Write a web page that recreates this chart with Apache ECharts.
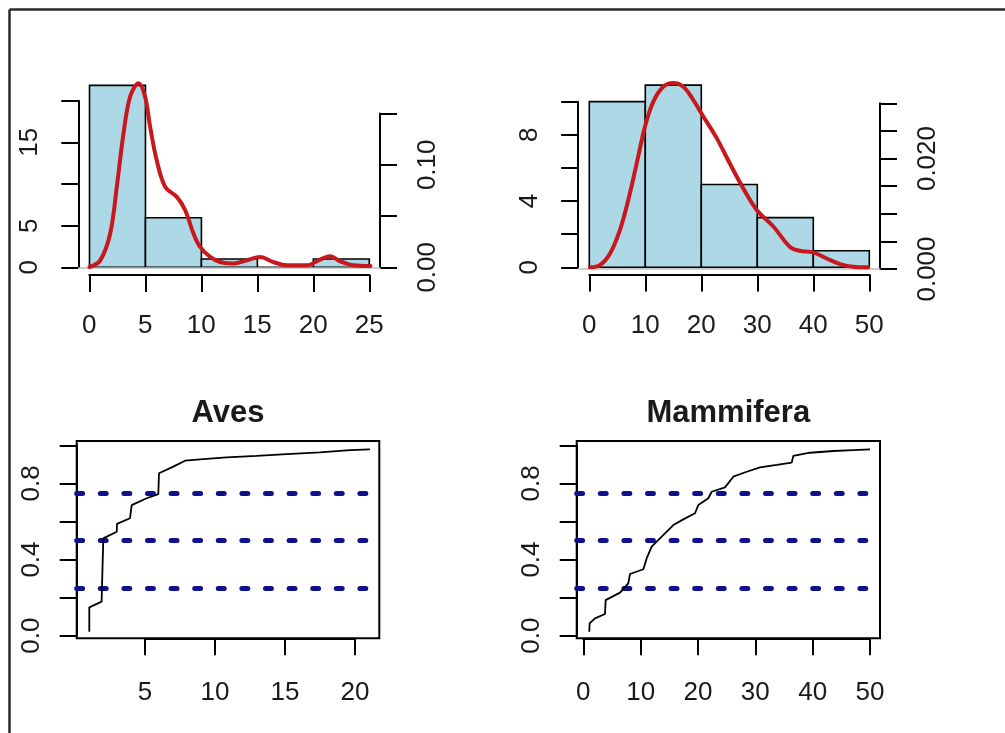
<!DOCTYPE html>
<html><head><meta charset="utf-8">
<script src="https://cdn.jsdelivr.net/npm/echarts@6/dist/echarts.min.js"></script>
<style>html,body{margin:0;padding:0;background:#fff;}#c{width:1005px;height:733px;}</style>
</head><body><div id="c"></div>
<script>
// ================= DATA =================
// Top-left: histogram of Aves values (counts) + kernel density
const avesBinEdges = [0, 5, 10, 15, 20, 25];
const avesCounts = [22, 6, 1, 0, 1];
const avesDensX = [0.0, 0.96, 1.85, 2.44, 3.04, 3.63, 4.38, 4.97, 5.42, 6.0, 6.76, 7.8, 8.55, 9.29, 9.88, 10.78, 11.67, 12.86, 14.05, 15.24, 16.43, 17.63, 19.4, 20.6, 21.5, 22.4, 23.6, 25.1];
const avesDensY = [0.0003, 0.0068, 0.033, 0.0785, 0.1307, 0.1665, 0.1796, 0.1665, 0.137, 0.1046, 0.0785, 0.0687, 0.0557, 0.033, 0.0199, 0.0101, 0.0052, 0.0036, 0.0068, 0.0101, 0.0052, 0.002, 0.002, 0.0075, 0.0108, 0.0059, 0.002, 0.0013];
// Top-right: histogram of Mammifera values + kernel density
const mammBinEdges = [0, 10, 20, 30, 40, 50];
const mammCounts = [10, 11, 5, 3, 1];
const mammDensX = [0.13, 1.9, 3.7, 5.48, 6.96, 8.46, 9.95, 11.43, 13.2, 15.0, 16.8, 18.57, 20.36, 22.75, 25.1, 27.5, 29.9, 32.86, 35.84, 37.6, 40.0, 42.4, 44.8, 47.1, 49.8];
const mammDensY = [0.0003, 0.0007, 0.0028, 0.0071, 0.0125, 0.0191, 0.0258, 0.0303, 0.0330, 0.0337, 0.0330, 0.0306, 0.0276, 0.0237, 0.0191, 0.0146, 0.0107, 0.0077, 0.0040, 0.0033, 0.0030, 0.0019, 0.0009, 0.0004, 0.0003];
// Bottom: cumulative curves
const avesCumX = [1.02, 1.02, 1.90, 2.02, 2.98, 3.0, 3.93, 4.05, 5.12, 5.95, 6.0, 7.02, 7.86, 8.93, 10.83, 12.98, 15.12, 17.5, 19.64, 21.07];
const avesCumY = [0.021, 0.149, 0.179, 0.511, 0.546, 0.587, 0.617, 0.686, 0.722, 0.744, 0.853, 0.888, 0.919, 0.926, 0.937, 0.944, 0.954, 0.963, 0.975, 0.979];
const mammCumX = [1.05, 1.1, 2.04, 3.78, 3.9, 6.4, 7.85, 8.14, 10.47, 11.05, 11.92, 13.67, 15.7, 17.44, 19.48, 20.06, 21.8, 22.39, 24.71, 26.16, 28.5, 30.82, 33.73, 36.34, 36.62, 39.53, 43.6, 47.09, 50.0];
const mammCumY = [0.021, 0.065, 0.091, 0.114, 0.187, 0.226, 0.275, 0.324, 0.349, 0.406, 0.468, 0.520, 0.581, 0.611, 0.643, 0.686, 0.722, 0.756, 0.779, 0.835, 0.861, 0.884, 0.897, 0.909, 0.944, 0.961, 0.970, 0.975, 0.979];
const quartileLevels = [0.25, 0.5, 0.75];
const panelTitles = ['Aves', 'Mammifera'];
// Tick labels (blank = tick without label)
const avesCountLabels = ['0', '5', '', '15', ''];
const avesDensLabels = ['0.00', '', '0.10', ''];
const avesXLabels = ['0', '5', '10', '15', '20', '25'];
const mammCountLabels = ['0', '', '4', '', '8', ''];
const mammDensLabels = ['0.000', '', '', '', '0.020', '', ''];
const mammXLabels = ['0', '10', '20', '30', '40', '50'];
const cumYLabels = ['0.0', '', '0.4', '', '0.8', ''];
const avesCumXLabels = ['5', '10', '15', '20'];
const mammCumXLabels = ['0', '10', '20', '30', '40', '50'];

// ================= LAYOUT / STYLE =================
const FONT = '"Liberation Sans", Arial, Helvetica, sans-serif';
const TXT = '#1a1a1a';
const LAB = 26;
const grids = [], xAxes = [], yAxes = [];
function addGrid(g) { grids.push(Object.assign({ show: false, containLabel: false, outerBoundsMode: 'none' }, g)); return grids.length - 1; }
function hidX(gi, min, max) { xAxes.push({ type: 'value', gridIndex: gi, min, max, show: false }); return xAxes.length - 1; }
function hidY(gi, min, max) { yAxes.push({ type: 'value', gridIndex: gi, min, max, show: false }); return yAxes.length - 1; }
function visAxis(gi, min, max, interval, labels, position, margin, rotate) {
  return {
    type: 'value', gridIndex: gi, min, max, interval, position,
    axisLine: { show: true, onZero: false, lineStyle: { color: '#000', width: 2 } },
    axisTick: { show: true, inside: false, length: 17, lineStyle: { color: '#000', width: 2 } },
    splitLine: { show: false },
    axisLabel: { show: true, rotate: rotate, margin, color: TXT, fontFamily: FONT, fontSize: LAB,
      formatter: v => { const s = labels[Math.round((v - min) / interval)]; return s === undefined ? '' : s; } }
  };
}
function visX(gi, min, max, interval, labels, margin) { xAxes.push(visAxis(gi, min, max, interval, labels, 'bottom', margin, 0)); hidY(gi, 0, 1); }
function visY(gi, min, max, interval, labels, position, margin) { yAxes.push(visAxis(gi, min, max, interval, labels, position, margin, 90)); hidX(gi, 0, 1); }

// ---- Top-left panel ----
const gTL = addGrid({ left: 78.3, top: 78.1, width: 302.2, height: 196.9 });
const xTL = hidX(gTL, -1, 26);
const yTLc = hidY(gTL, -0.93, 22.88);
const yTLd = hidY(gTL, -0.0075, 0.1846);
visY(addGrid({ left: 78.3, top: 100.7, width: 302.2, height: 166.6 }), 0, 20, 5, avesCountLabels, 'left', 35);
visX(addGrid({ left: 89.3, top: 265, width: 280, height: 10 }), 0, 25, 5, avesXLabels, 38);
visY(addGrid({ left: 300, top: 113.55, width: 80, height: 153.75 }), 0, 0.15, 0.05, avesDensLabels, 'right', 35);

// ---- Top-right panel ----
const gTR = addGrid({ left: 578.1, top: 77.8, width: 302.4, height: 196.8 });
const xTR = hidX(gTR, -2, 52);
const yTRc = hidY(gTR, -0.44, 11.44);
const yTRd = hidY(gTR, -0.00101, 0.03462);
visY(addGrid({ left: 578.1, top: 101.7, width: 302.4, height: 165.6 }), 0, 10, 2, mammCountLabels, 'left', 35);
visX(addGrid({ left: 589.3, top: 264.6, width: 280, height: 10 }), 0, 50, 10, mammXLabels, 38);
visY(addGrid({ left: 800, top: 103.3, width: 80, height: 165.7 }), 0, 0.03, 0.005, mammDensLabels, 'right', 35);

// ---- Bottom-left panel ----
const gBL = addGrid({ left: 76.7, top: 441, width: 302.6, height: 197.3, show: true, borderColor: '#000', borderWidth: 2, backgroundColor: 'transparent' });
const xBL = hidX(gBL, 0.12, 21.74);
const yBL = hidY(gBL, -0.0137, 1.0226);
visY(addGrid({ left: 76.7, top: 445.3, width: 302.6, height: 190.4 }), 0, 1, 0.2, cumYLabels, 'left', 32);
visX(addGrid({ left: 145, top: 628.3, width: 210, height: 10 }), 5, 20, 5, avesCumXLabels, 42);

// ---- Bottom-right panel ----
const gBR = addGrid({ left: 576.7, top: 441, width: 303.3, height: 197.3, show: true, borderColor: '#000', borderWidth: 2, backgroundColor: 'transparent' });
const xBR = hidX(gBR, -1.15, 51.74);
const yBR = hidY(gBR, -0.0137, 1.0226);
visY(addGrid({ left: 576.7, top: 445.3, width: 303.3, height: 190.4 }), 0, 1, 0.2, cumYLabels, 'left', 32);
visX(addGrid({ left: 583.3, top: 628.3, width: 286.7, height: 10 }), 0, 50, 10, mammCumXLabels, 42);

// ================= SERIES =================
function histSeries(xi, yi, edges, counts) {
  return {
    type: 'custom', xAxisIndex: xi, yAxisIndex: yi, z: 2,
    data: counts.map((c, i) => [edges[i], edges[i + 1], c]),
    encode: { x: [0, 1], y: 2 },
    renderItem: (params, api) => {
      const p0 = api.coord([api.value(0), api.value(2)]);
      const p1 = api.coord([api.value(1), 0]);
      return { type: 'rect', shape: { x: p0[0], y: p0[1], width: p1[0] - p0[0], height: p1[1] - p0[1] },
        style: { fill: '#ADD8E6', stroke: '#000', lineWidth: 1.6 } };
    }
  };
}
function densSeries(xi, yi, xs, ys) {
  return {
    type: 'line', xAxisIndex: xi, yAxisIndex: yi, z: 5, smooth: 0.35, showSymbol: false, silent: true,
    data: xs.map((x, i) => [x, ys[i]]),
    lineStyle: { color: '#c8171d', width: 4, join: 'round', cap: 'round' },
    markLine: { silent: true, symbol: 'none', label: { show: false }, z: 4,
      lineStyle: { color: '#bebebe', width: 1.5, type: 'solid' }, data: [{ yAxis: 0 }] }
  };
}
function cumSeries(xi, yi, xs, ys) {
  return {
    type: 'line', xAxisIndex: xi, yAxisIndex: yi, z: 5, showSymbol: false, silent: true,
    data: xs.map((x, i) => [x, ys[i]]),
    lineStyle: { color: '#000', width: 1.8 },
    markLine: { silent: true, symbol: 'none', label: { show: false },
      lineStyle: { color: '#10108c', width: 5, type: [5.9, 17.7], cap: 'round' },
      data: quartileLevels.map(q => ({ yAxis: q })) }
  };
}

const option = {
  animation: false,
  backgroundColor: '#fff',
  textStyle: { fontFamily: FONT },
  title: [
    { text: panelTitles[0], left: 228, top: 398, textAlign: 'center', padding: 0,
      textStyle: { fontFamily: FONT, fontSize: 31, fontWeight: 'bold', color: TXT } },
    { text: panelTitles[1], left: 728.3, top: 398, textAlign: 'center', padding: 0,
      textStyle: { fontFamily: FONT, fontSize: 31, fontWeight: 'bold', color: TXT } }
  ],
  grid: grids, xAxis: xAxes, yAxis: yAxes,
  graphic: [
    { type: 'line', shape: { x1: 9.5, y1: 9.5, x2: 1005, y2: 9.5 }, style: { stroke: '#2a2a2a', lineWidth: 2.5 } },
    { type: 'line', shape: { x1: 9.5, y1: 9.5, x2: 9.5, y2: 733 }, style: { stroke: '#2a2a2a', lineWidth: 2.5 } }
  ],
  series: [
    histSeries(xTL, yTLc, avesBinEdges, avesCounts),
    densSeries(xTL, yTLd, avesDensX, avesDensY),
    histSeries(xTR, yTRc, mammBinEdges, mammCounts),
    densSeries(xTR, yTRd, mammDensX, mammDensY),
    cumSeries(xBL, yBL, avesCumX, avesCumY),
    cumSeries(xBR, yBR, mammCumX, mammCumY)
  ]
};
const chart = echarts.init(document.getElementById('c'), null, { renderer: 'canvas' });
chart.setOption(option);
</script></body></html>
